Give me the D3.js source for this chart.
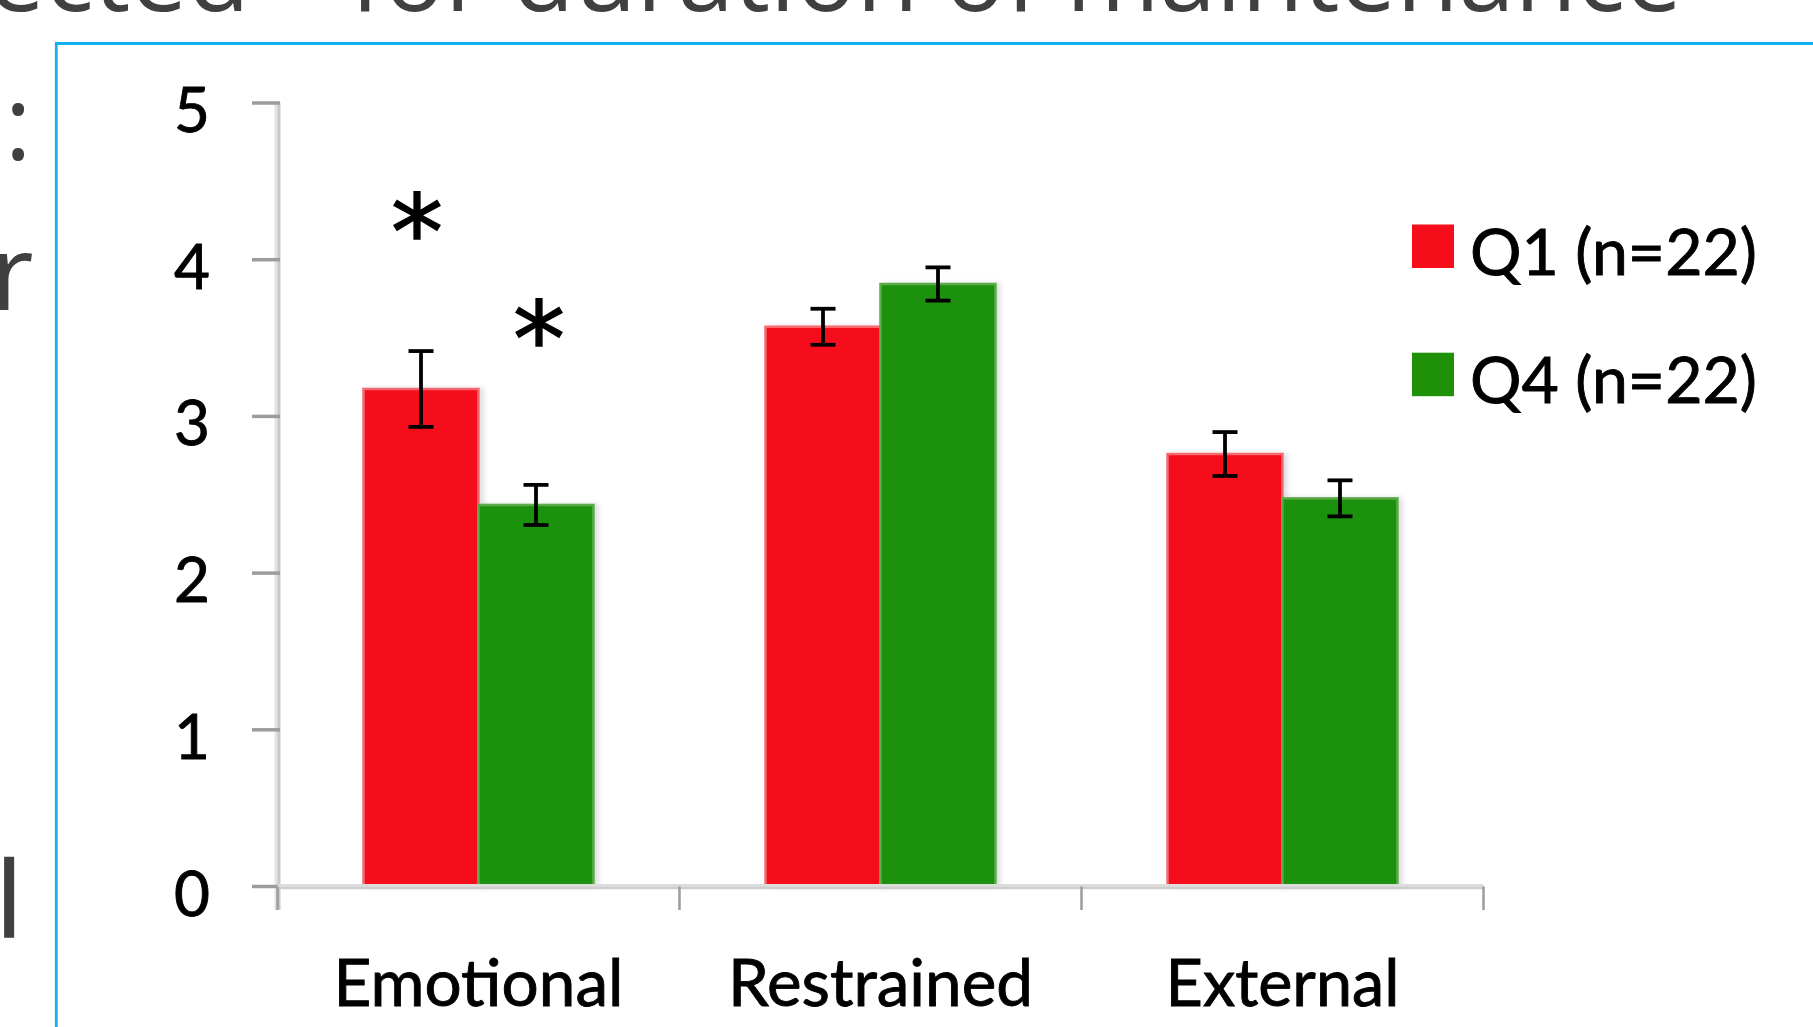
<!DOCTYPE html>
<html>
<head>
<meta charset="utf-8">
<script src="https://cdn.jsdelivr.net/npm/d3@7"></script>
<style>
  html, body { margin: 0; padding: 0; background: #ffffff; overflow: hidden; }
  svg { display: block; }
</style>
</head>
<body>
<script>
// ---------- data ----------
const categories = ["Emotional", "Restrained", "External"];
const seriesNames = ["Q1 (n=22)", "Q4 (n=22)"];
const q1Means = [3.175, 3.572, 2.760];
const q1Errors = [0.242, 0.115, 0.140];
const q4Means = [2.435, 3.845, 2.477];
const q4Errors = [0.128, 0.106, 0.115];
const yTicks = [0, 1, 2, 3, 4, 5];
const significanceMarks = [
  { category: "Emotional", series: 0, value: 4.31 },
  { category: "Emotional", series: 1, value: 3.63 }
];
const seriesColors = ["#f50d1a", "#1f9108"];
const seriesEdges = ["#f56a70", "#5caa4c"];

// ---------- canvas ----------
const W = 1813, H = 1027;
const svg = d3.select("body").append("svg").attr("width", W).attr("height", H);

// slide fragments (clipped text of the surrounding slide)
const slideFont = "'Open Sans', 'Noto Sans', sans-serif";
const slideColor = "#404040";
svg.append("text").attr("x", 250).attr("y", 11).attr("text-anchor", "end")
  .attr("font-family", slideFont).attr("font-size", 102).attr("fill", slideColor)
  .text("ected");
svg.append("text").attr("x", 345).attr("y", 11).attr("text-anchor", "end")
  .attr("font-family", slideFont).attr("font-size", 102).attr("fill", slideColor)
  .text("\u201C");
svg.append("text").attr("x", 350).attr("y", 11)
  .attr("font-family", slideFont).attr("font-size", 102).attr("fill", slideColor)
  .attr("textLength", 1332).attr("lengthAdjust", "spacingAndGlyphs")
  .text("for duration of maintenance");
svg.append("text").attr("x", 31.5).attr("y", 160).attr("text-anchor", "end")
  .attr("font-family", slideFont).attr("font-size", 102).attr("fill", slideColor)
  .text(":");
svg.append("text").attr("x", -9).attr("y", 310)
  .attr("font-family", slideFont).attr("font-size", 104).attr("fill", slideColor)
  .text("r");
svg.append("text").attr("x", -4).attr("y", 937)
  .attr("font-family", slideFont).attr("font-size", 104).attr("fill", slideColor)
  .attr("stroke", slideColor).attr("stroke-width", 1.5)
  .text("l");

// frame
const frameColor = "#0fb2f0";
svg.append("line").attr("x1", 55).attr("x2", W).attr("y1", 43.5).attr("y2", 43.5)
  .attr("stroke", frameColor).attr("stroke-width", 3);
svg.append("line").attr("x1", 56.3).attr("x2", 56.3).attr("y1", 42).attr("y2", H)
  .attr("stroke", frameColor).attr("stroke-width", 2.8);

// ---------- scales ----------
const chartFont = "Lato, 'Open Sans', sans-serif";
const x0 = 277.5, x1 = 1483.5, yBottom = 886.5, yTop = 103;
const x = d3.scaleBand().domain(categories).range([x0, x1]).padding(0);
const xs = d3.scaleBand().domain([0, 1]).range([0, x.bandwidth()])
  .paddingInner(0).paddingOuter(0.748);
const y = d3.scaleLinear().domain([0, 5]).range([yBottom, yTop]);

const rows = [];
categories.forEach((c, i) => {
  rows.push({ category: c, series: 0, mean: q1Means[i], err: q1Errors[i] });
  rows.push({ category: c, series: 1, mean: q4Means[i], err: q4Errors[i] });
});

// bar shadows
const defs = svg.append("defs");
const f = defs.append("filter").attr("id", "shadow").attr("x", "-10%").attr("y", "-10%")
  .attr("width", "130%").attr("height", "120%");
f.append("feDropShadow").attr("dx", 4).attr("dy", 0).attr("stdDeviation", 2.5)
  .attr("flood-color", "#000").attr("flood-opacity", 0.12);

// bars
svg.append("g").selectAll("rect").data(rows).join("rect")
  .attr("x", d => x(d.category) + xs(d.series))
  .attr("width", xs.bandwidth())
  .attr("y", d => y(d.mean))
  .attr("height", d => y(0) - y(d.mean))
  .attr("fill", d => seriesColors[d.series])
  .attr("stroke", d => seriesEdges[d.series])
  .attr("stroke-width", 2.5)
  .attr("filter", "url(#shadow)");

// y axis (custom styled from the scale)
const yAxisG = svg.append("g");
yAxisG.append("line").attr("x1", x0 - 1).attr("x2", x0 - 1)
  .attr("y1", y(5)).attr("y2", 910).attr("stroke", "#e4e4e4").attr("stroke-width", 4);
yAxisG.append("line").attr("x1", x0 + 1.5).attr("x2", x0 + 1.5)
  .attr("y1", y(5)).attr("y2", 910).attr("stroke", "#c9c9c9").attr("stroke-width", 3);
yAxisG.selectAll("line.tick").data(yTicks).join("line").attr("class", "tick")
  .attr("x1", 252).attr("x2", 280)
  .attr("y1", d => y(d)).attr("y2", d => y(d))
  .attr("stroke", "#9c9c9c").attr("stroke-width", 3.5);
yAxisG.selectAll("text").data(yTicks).join("text")
  .attr("x", 210).attr("y", d => y(d) + 29)
  .attr("text-anchor", "end")
  .attr("font-family", chartFont).attr("font-size", 62).attr("fill", "#000")
  .attr("stroke", "#000").attr("stroke-width", 0.9)
  .text(d => d);

// x axis
const xAxisG = svg.append("g");
xAxisG.append("line").attr("x1", x0).attr("x2", x1)
  .attr("y1", yBottom - 1).attr("y2", yBottom - 1)
  .attr("stroke", "#dcdcdc").attr("stroke-width", 3);
xAxisG.append("line").attr("x1", x0).attr("x2", x1)
  .attr("y1", yBottom + 1.5).attr("y2", yBottom + 1.5)
  .attr("stroke", "#cfcfcf").attr("stroke-width", 2.5);
const boundaries = categories.map(c => x(c)).concat([x1]);
xAxisG.selectAll("line.tick").data(boundaries).join("line").attr("class", "tick")
  .attr("x1", d => d).attr("x2", d => d)
  .attr("y1", yBottom).attr("y2", 910)
  .attr("stroke", "#9c9c9c").attr("stroke-width", 2.5);
const labelLengths = { Emotional: 290, Restrained: 305, External: 234 };
xAxisG.selectAll("text").data(categories).join("text")
  .attr("x", d => x(d) + x.bandwidth() / 2)
  .attr("y", 1006)
  .attr("text-anchor", "middle")
  .attr("font-family", chartFont).attr("font-size", 66).attr("fill", "#000")
  .attr("stroke", "#000").attr("stroke-width", 0.9)
  .attr("textLength", d => labelLengths[d]).attr("lengthAdjust", "spacingAndGlyphs")
  .text(d => d);

// error bars
const capHalf = 12.5;
const eg = svg.append("g").attr("stroke", "#000").attr("stroke-width", 3.8);
rows.forEach(d => {
  const cx = x(d.category) + xs(d.series) + xs.bandwidth() / 2;
  const yt = y(d.mean + d.err), yb = y(d.mean - d.err);
  eg.append("line").attr("x1", cx).attr("x2", cx).attr("y1", yt).attr("y2", yb);
  eg.append("line").attr("x1", cx - capHalf).attr("x2", cx + capHalf).attr("y1", yt).attr("y2", yt);
  eg.append("line").attr("x1", cx - capHalf).attr("x2", cx + capHalf).attr("y1", yb).attr("y2", yb);
});

// significance asterisks
svg.append("g").selectAll("text").data(significanceMarks).join("text")
  .attr("x", d => x(d.category) + xs(d.series) + xs.bandwidth() / 2 + (d.series === 0 ? -4 : 3))
  .attr("y", d => y(d.value) + 58)
  .attr("text-anchor", "middle")
  .attr("font-family", "'DejaVu Sans', sans-serif")
  .attr("font-size", 104).attr("fill", "#000")
  .attr("stroke", "#000").attr("stroke-width", 1.5)
  .text("*");

// legend
const lg = svg.append("g");
const legendY = [224.5, 352.7];
seriesNames.forEach((s, i) => {
  lg.append("rect").attr("x", 1412).attr("y", legendY[i]).attr("width", 42).attr("height", 43.5)
    .attr("fill", seriesColors[i]);
  lg.append("text").attr("x", 1470).attr("y", legendY[i] + 50.5)
    .attr("font-family", chartFont).attr("font-size", 64).attr("fill", "#000")
    .attr("stroke", "#000").attr("stroke-width", 0.9)
    .attr("textLength", 287).attr("lengthAdjust", "spacingAndGlyphs")
    .text(s);
});
</script>
</body>
</html>
